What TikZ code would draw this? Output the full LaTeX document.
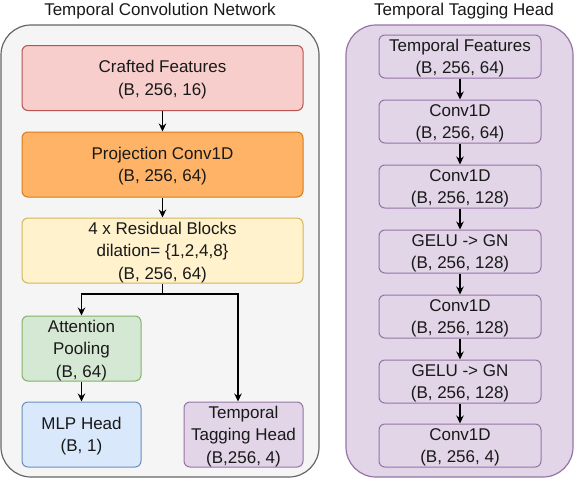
\documentclass[tikz,border=0pt]{standalone}
\usepackage{fontspec}
\setmainfont{Liberation Sans}
\usetikzlibrary{arrows.meta}

\definecolor{redfill}{HTML}{F8CECC}
\definecolor{redline}{HTML}{B85450}
\definecolor{orangefill}{HTML}{FFB366}
\definecolor{orangeline}{HTML}{D97B1A}
\definecolor{yellowfill}{HTML}{FFF2CC}
\definecolor{yellowline}{HTML}{D6B656}
\definecolor{greenfill}{HTML}{D5E8D4}
\definecolor{greenline}{HTML}{82B366}
\definecolor{bluefill}{HTML}{DAE8FC}
\definecolor{blueline}{HTML}{6C8EBF}
\definecolor{purplefill}{HTML}{E1D5E7}
\definecolor{purpleline}{HTML}{9673A6}
\definecolor{grayfill}{HTML}{F5F5F5}
\definecolor{grayline}{HTML}{666666}

\begin{document}
\begin{tikzpicture}[
  x=1pt, y=-1pt,
  container/.style={draw, line width=1.2pt, rounded corners=30pt},
  block/.style={draw, line width=1pt, rounded corners=6pt, align=center, inner sep=0pt,
    font=\fontsize{17}{22.5}\selectfont, text=black!90, text depth=0pt},
  wide/.style={block, minimum width=281pt, minimum height=65pt},
  small/.style={block, minimum width=119pt, minimum height=65pt},
  tag/.style={block, fill=purplefill, draw=purpleline, minimum width=162pt, minimum height=43pt},
  title/.style={font=\fontsize{17}{22}\selectfont, text=black!90},
  arrow/.style={draw, line width=1.2pt, -{Stealth[length=8pt,width=7.5pt]}},
]
  \useasboundingbox (0,0) rectangle (574,480);

  % containers
  \draw[container, fill=grayfill, draw=grayline] (1,25) rectangle (319,477);
  \draw[container, fill=purplefill, draw=purpleline] (346,25) rectangle (573,477);
  \node[title] (tcntitle) at (160,11) {Temporal Convolution Network};
  \node[title] (tthtitle) at (464,11) {Temporal Tagging Head};

  % temporal convolution network
  \node[wide, fill=redfill, draw=redline] (crafted) at (162.5,78) {Crafted Features\\(B, 256, 16)};
  \node[wide, fill=orangefill, draw=orangeline] (proj) at (162.5,164.5) {Projection Conv1D\\(B, 256, 64)};
  \node[wide, fill=yellowfill, draw=yellowline] (resid) at (162.5,250.5) {4 x Residual Blocks\\dilation= \{1,2,4,8\}\\(B, 256, 64)};
  \node[small, fill=greenfill, draw=greenline] (attn) at (81.5,348.5) {Attention\\Pooling\\(B, 64)};
  \node[small, fill=bluefill, draw=blueline] (mlp) at (81.5,434.5) {MLP Head\\(B, 1)};
  \node[small, fill=purplefill, draw=purpleline] (tthead) at (243.5,434.5) {Temporal\\Tagging Head\\(B,256, 4)};
  \coordinate (split) at (162.5,294);

  \draw[arrow] (crafted) -- (proj);
  \draw[arrow] (proj) -- (resid);
  \draw[line width=1.2pt] (resid.south) -- (split);
  \draw[arrow] (split) -| (attn.north);
  \draw[arrow] (split) -| ([xshift=-5.5pt]tthead.north);
  \draw[arrow] (attn) -- (mlp);

  % temporal tagging head
  \node[tag] (feat) at (460,56.5) {Temporal Features\\(B, 256, 64)};
  \node[tag] (conva) at (460,121.5) {Conv1D\\(B, 256, 64)};
  \node[tag] (convb) at (460,186.5) {Conv1D\\(B, 256, 128)};
  \node[tag] (gelua) at (460,251.5) {GELU -> GN\\(B, 256, 128)};
  \node[tag] (convc) at (460,316.5) {Conv1D\\(B, 256, 128)};
  \node[tag] (gelub) at (460,381.5) {GELU -> GN\\(B, 256, 128)};
  \node[tag] (convd) at (460,445.5) {Conv1D\\(B, 256, 4)};

  \foreach \a/\b in {feat/conva, conva/convb, convb/gelua, gelua/convc, convc/gelub, gelub/convd}
    \draw[arrow] (\a) -- (\b);
\end{tikzpicture}
\end{document}
